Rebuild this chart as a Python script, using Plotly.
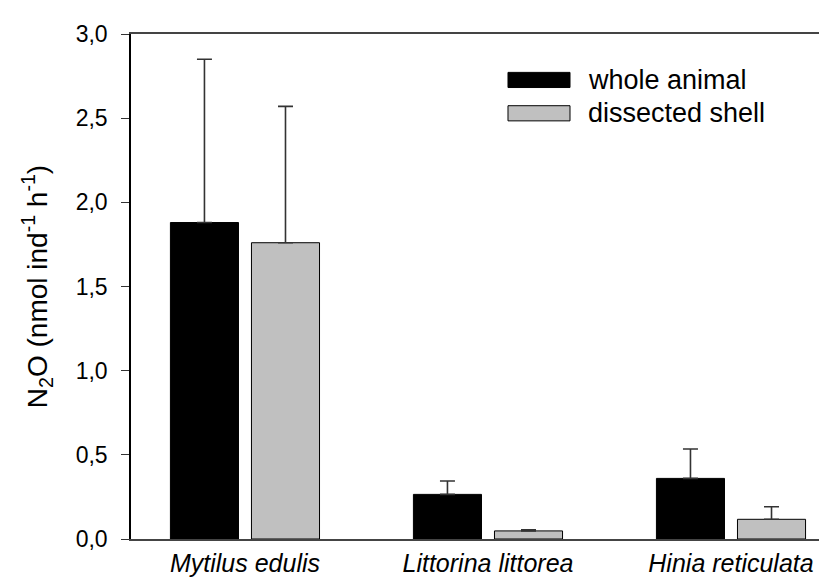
import plotly.graph_objects as go

species = ["Mytilus edulis", "Littorina littorea", "Hinia reticulata"]
series_names = ["whole animal", "dissected shell"]
whole_mean = [1.88, 0.265, 0.36]
whole_upper = [2.85, 0.345, 0.535]
shell_mean = [1.76, 0.048, 0.117]
shell_upper = [2.57, 0.055, 0.192]
y_ticks = [0.0, 0.5, 1.0, 1.5, 2.0, 2.5, 3.0]
y_tick_text = ["0,0", "0,5", "1,0", "1,5", "2,0", "2,5", "3,0"]

FONT = "Liberation Sans, Arial, sans-serif"

fig = go.Figure()
for name, mean, upper, fill in [
    (series_names[0], whole_mean, whole_upper, "#000000"),
    (series_names[1], shell_mean, shell_upper, "#c0c0c0"),
]:
    fig.add_trace(go.Bar(
        x=species, y=mean, name=name,
        marker=dict(color=fill, line=dict(color="#000000", width=1)),
        error_y=dict(type="data", symmetric=False,
                     array=[u - m for u, m in zip(upper, mean)],
                     arrayminus=[0] * len(mean),
                     color="#333333", thickness=1.6, width=7.5),
        showlegend=False,
    ))

# custom legend (wide swatches like the original)
legend_fills = ["#000000", "#c0c0c0"]
legend_y = [0.909, 0.843]
for nm, fc, yc in zip(series_names, legend_fills, legend_y):
    fig.add_shape(type="rect", xref="paper", yref="paper",
                  x0=0.5355, x1=0.6236, y0=yc - 0.015, y1=yc + 0.015,
                  fillcolor=fc, line=dict(color="#000000", width=1))
    fig.add_annotation(xref="paper", yref="paper", x=0.647, y=yc,
                       text=nm, showarrow=False, xanchor="left", yanchor="middle",
                       font=dict(family=FONT, size=27, color="#000000"))

fig.update_layout(
    width=827, height=579,
    margin=dict(l=123, r=0, t=26, b=48),
    paper_bgcolor="white", plot_bgcolor="white",
    barmode="group", bargap=0.333, bargroupgap=0.16,
    font=dict(family=FONT, color="#000000"),
    xaxis=dict(
        type="category", range=[-0.469, 2.428], automargin=False,
        showline=True, linecolor="#444444", linewidth=1.5, mirror=True,
        ticks="", showgrid=False, ticklabelstandoff=1,
        tickfont=dict(family=FONT, size=25, style="italic"),
    ),
    yaxis=dict(
        range=[0, 3], tickvals=y_ticks, ticktext=y_tick_text, automargin=False,
        showline=True, linecolor="#000000", linewidth=1.5,
        ticks="outside", ticklen=8, tickwidth=1, tickcolor="#333333",
        ticklabelstandoff=9,
        showgrid=False, zeroline=False,
        tickfont=dict(family=FONT, size=23),
        title=dict(text="N<sub>2</sub>O (nmol ind<sup>-1</sup> h<sup>-1</sup>)",
                   font=dict(family=FONT, size=28), standoff=20),
    ),
)

fig.write_html("out.html")
